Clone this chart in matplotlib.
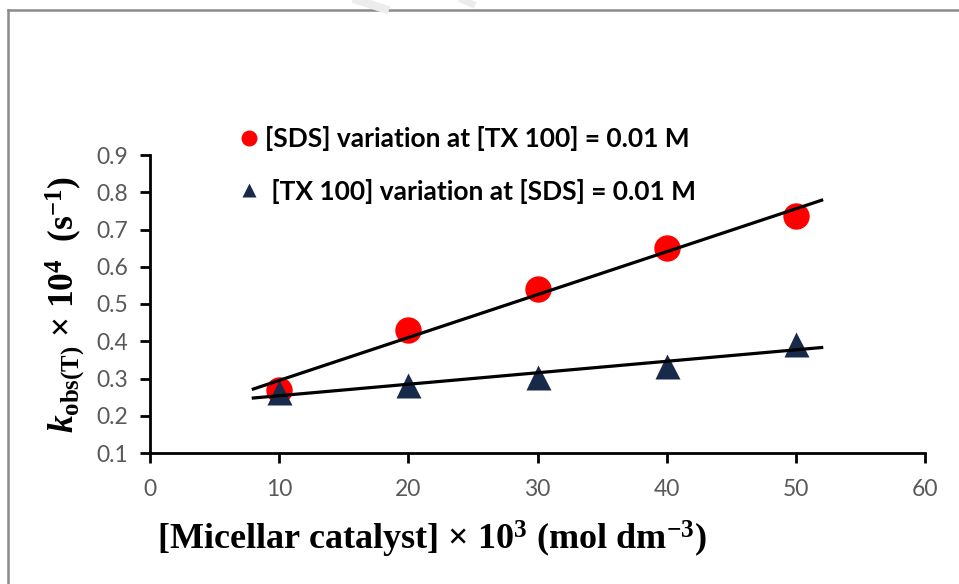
import numpy as np
import matplotlib.pyplot as plt
from matplotlib.lines import Line2D

plt.rcParams['mathtext.fontset'] = 'custom'
plt.rcParams['mathtext.rm'] = 'Liberation Serif:bold'
plt.rcParams['mathtext.bf'] = 'Liberation Serif:bold'
plt.rcParams['mathtext.it'] = 'Liberation Serif:bold:italic'

# Micellar catalyst concentration (x 10^3 mol dm^-3)
conc = [10, 20, 30, 40, 50]
# k_obs(T) x 10^4 (s^-1)
k_sds = [0.27, 0.43, 0.54, 0.65, 0.736]
k_tx = [0.265, 0.282, 0.303, 0.334, 0.393]

labels = ['[SDS] variation at [TX 100] = 0.01 M',
          ' [TX 100] variation at [SDS] = 0.01 M']

red = '#FF0000'
navy = '#172A4A'

W, H = 959, 584
fig = plt.figure(figsize=(W / 100, H / 100), dpi=100)
ax = fig.add_axes([150 / W, 1 - 453 / H, 775 / W, 298 / H])

# linear trendlines over 8..52
xfit = np.array([8, 52])
for y in (k_sds, k_tx):
    p = np.polyfit(conc, y, 1)
    ax.plot(xfit, np.polyval(p, xfit), color='black', lw=2.3, zorder=3)

ax.plot(conc, k_sds, 'o', color=red, ms=19, mec='none', zorder=2)
ax.plot(conc, k_tx, '^', color=navy, ms=18, mec='none', zorder=2)

ax.set_xlim(0, 60)
ax.set_ylim(0.1, 0.9)
ax.set_xticks(range(0, 61, 10))
ax.set_yticks(np.arange(0.1, 0.91, 0.1))
ax.set_yticklabels([f'{v:.1f}' for v in np.arange(0.1, 0.91, 0.1)])
for s in ('top', 'right'):
    ax.spines[s].set_visible(False)
for s in ('left', 'bottom'):
    ax.spines[s].set_linewidth(2)
ax.tick_params(direction='out', length=7, width=2, labelsize=16.5,
               labelcolor='#595959')
ax.tick_params(axis='x', pad=12)
ax.tick_params(axis='y', pad=9)
for lab in ax.get_xticklabels() + ax.get_yticklabels():
    lab.set_family('Lato')

ax.set_xlabel(r'[Micellar catalyst] × 10$^{\mathbf{3}}$ (mol dm$^{\mathbf{-3}}$)',
              family='Liberation Serif', weight='bold', fontsize=26, loc='left')
ax.xaxis.set_label_coords(7 / 775, -66 / 298)
ax.set_ylabel(r'$k_{\mathrm{obs(T)}}$ × 10$^{\mathbf{4}}$  (s$^{\mathbf{-1}}$)',
              family='Liberation Serif', weight='bold', fontsize=25.5)
ax.yaxis.set_label_coords(-63 / 775, 0.5)

handles = [Line2D([], [], ls='none', marker='o', color=red, ms=11.5, mec='none'),
           Line2D([], [], ls='none', marker='^', color=navy, ms=10, mec='none')]
fig.legend(handles, labels, loc='upper left',
           bbox_to_anchor=(240 / W, 1 - 126 / H), frameon=False,
           prop={'family': 'Lato', 'weight': 'bold', 'size': 19},
           handlelength=0.7, handletextpad=0.25, labelspacing=1.05,
           borderpad=0, borderaxespad=0)

# outer border (top and left edges)
fig.add_artist(Line2D([8 / W, 1], [1 - 10 / H, 1 - 10 / H], color='#8a8a8a', lw=1.8))
fig.add_artist(Line2D([8 / W, 8 / W], [0, 1 - 10 / H], color='#8a8a8a', lw=1.8))
# faint watermark strokes along the top
fig.add_artist(Line2D([357 / W, 385 / W], [1, 1 - 9 / H], color='#ececec', lw=6))
fig.add_artist(Line2D([463 / W, 472 / W], [1, 1 - 4 / H], color='#ececec', lw=5))

fig.savefig('out.png', dpi=100)
